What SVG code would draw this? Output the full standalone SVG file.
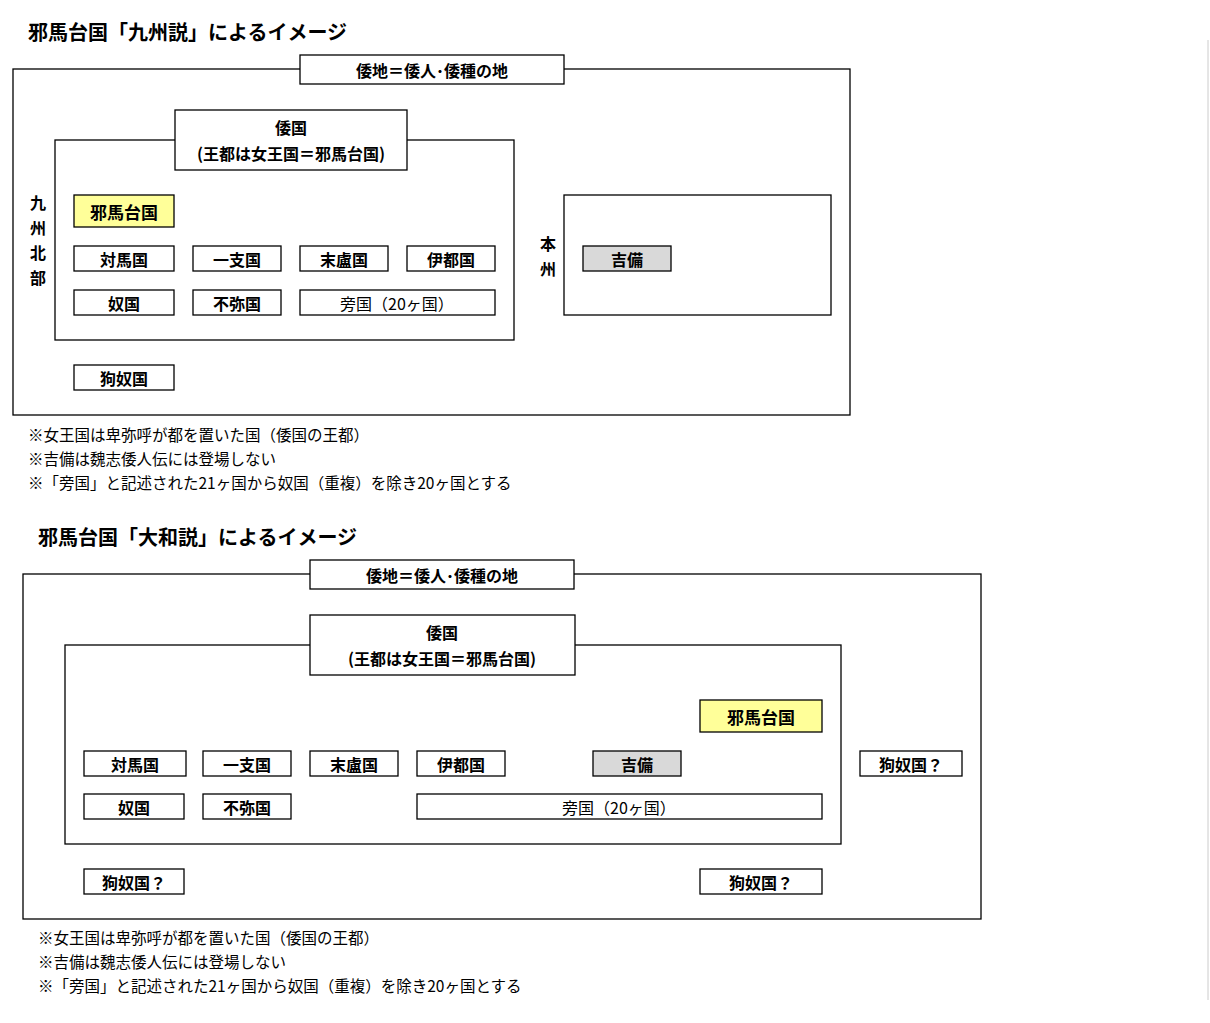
<svg xmlns="http://www.w3.org/2000/svg" width="1210" height="1023" viewBox="0 0 1210 1023">
<style>
text{font-family:"Noto Sans CJK JP","Liberation Sans",sans-serif;fill:#000}
.t{font-size:20px;font-weight:bold}
.b{font-size:16px;font-weight:bold;text-anchor:middle;dominant-baseline:central}
.n{font-size:16px;text-anchor:middle;dominant-baseline:central}
.note{font-size:15.5px}
.box{fill:#fff;stroke:#000;stroke-width:1.3}
.y{fill:#ffff99;stroke:#000;stroke-width:1.3}
.g{fill:#d9d9d9;stroke:#000;stroke-width:1.3}
</style>
<rect width="1210" height="1023" fill="#fff"/>
<line x1="1208" y1="40" x2="1208" y2="1000" stroke="#ccc"/>

<g id="kyushu">
<text class="t" x="28" y="40">邪馬台国「九州説」によるイメージ</text>
<rect class="box" x="13" y="69" width="837" height="346"/>
<g id="k-wachi"><rect class="box" x="300" y="55" width="264" height="29"/><text class="b" x="432" y="69.5">倭地＝倭人･倭種の地</text></g>
<rect class="box" x="55" y="140" width="459" height="200"/>
<g id="k-wakoku"><rect class="box" x="175" y="110" width="232" height="60"/><text class="b" x="291" y="127">倭国</text><text class="b" x="291" y="153">(王都は女王国＝邪馬台国)</text></g>
<g id="k-kyushu"><text class="b" x="38" y="202">九</text><text class="b" x="38" y="227">州</text><text class="b" x="38" y="252">北</text><text class="b" x="38" y="277">部</text></g>
<g id="k-yamatai"><rect class="y" x="74" y="195" width="100" height="32"/><text class="b" x="124" y="211" style="font-size:17px">邪馬台国</text></g>
<g id="k-tsushima"><rect class="box" x="74" y="246" width="100" height="25"/><text class="b" x="124" y="258.5">対馬国</text></g>
<g id="k-iki"><rect class="box" x="193" y="246" width="88" height="25"/><text class="b" x="237" y="258.5">一支国</text></g>
<g id="k-matsuro"><rect class="box" x="300" y="246" width="88" height="25"/><text class="b" x="344" y="258.5">末盧国</text></g>
<g id="k-ito"><rect class="box" x="407" y="246" width="88" height="25"/><text class="b" x="451" y="258.5">伊都国</text></g>
<g id="k-na"><rect class="box" x="74" y="290" width="100" height="25"/><text class="b" x="124" y="302.5">奴国</text></g>
<g id="k-fumi"><rect class="box" x="193" y="290" width="88" height="25"/><text class="b" x="237" y="302.5">不弥国</text></g>
<g id="k-boukoku"><rect class="box" x="300" y="290" width="195" height="25"/><text class="n" x="397" y="302.5">旁国（20ヶ国）</text></g>
<g id="k-kuna"><rect class="box" x="74" y="365" width="100" height="25"/><text class="b" x="124" y="377.5">狗奴国</text></g>
<g id="k-honshu"><rect class="box" x="564" y="195" width="267" height="120"/><text class="b" x="548" y="243">本</text><text class="b" x="548" y="268">州</text></g>
<g id="k-kibi"><rect class="g" x="583" y="246" width="88" height="25"/><text class="b" x="627" y="258.5">吉備</text></g>
<text class="note" x="28" y="441">※女王国は卑弥呼が都を置いた国（倭国の王都）</text>
<text class="note" x="28" y="465">※吉備は魏志倭人伝には登場しない</text>
<text class="note" x="28" y="489">※「旁国」と記述された21ヶ国から奴国（重複）を除き20ヶ国とする</text>
</g>

<g id="yamato">
<text class="t" x="38" y="545">邪馬台国「大和説」によるイメージ</text>
<rect class="box" x="23" y="574" width="958" height="345"/>
<g id="y-wachi"><rect class="box" x="310" y="560" width="264" height="29"/><text class="b" x="442" y="574.5">倭地＝倭人･倭種の地</text></g>
<rect class="box" x="65" y="645" width="776" height="199"/>
<g id="y-wakoku"><rect class="box" x="310" y="615" width="265" height="60"/><text class="b" x="442" y="632">倭国</text><text class="b" x="442" y="658">(王都は女王国＝邪馬台国)</text></g>
<g id="y-yamatai"><rect class="y" x="700" y="700" width="122" height="32"/><text class="b" x="761" y="716" style="font-size:17px">邪馬台国</text></g>
<g id="y-tsushima"><rect class="box" x="84" y="751" width="102" height="25"/><text class="b" x="135" y="763.5">対馬国</text></g>
<g id="y-iki"><rect class="box" x="203" y="751" width="88" height="25"/><text class="b" x="247" y="763.5">一支国</text></g>
<g id="y-matsuro"><rect class="box" x="310" y="751" width="88" height="25"/><text class="b" x="354" y="763.5">末盧国</text></g>
<g id="y-ito"><rect class="box" x="417" y="751" width="88" height="25"/><text class="b" x="461" y="763.5">伊都国</text></g>
<g id="y-kibi"><rect class="g" x="593" y="751" width="88" height="25"/><text class="b" x="637" y="763.5">吉備</text></g>
<g id="y-kuna1"><rect class="box" x="860" y="751" width="102" height="25"/><text class="b" x="911" y="763.5">狗奴国？</text></g>
<g id="y-na"><rect class="box" x="84" y="794" width="100" height="25"/><text class="b" x="134" y="806.5">奴国</text></g>
<g id="y-fumi"><rect class="box" x="203" y="794" width="88" height="25"/><text class="b" x="247" y="806.5">不弥国</text></g>
<g id="y-boukoku"><rect class="box" x="417" y="794" width="405" height="25"/><text class="n" x="619" y="806.5">旁国（20ヶ国）</text></g>
<g id="y-kuna2"><rect class="box" x="84" y="869" width="100" height="25"/><text class="b" x="134" y="881.5">狗奴国？</text></g>
<g id="y-kuna3"><rect class="box" x="700" y="869" width="122" height="25"/><text class="b" x="761" y="881.5">狗奴国？</text></g>
<text class="note" x="38" y="944">※女王国は卑弥呼が都を置いた国（倭国の王都）</text>
<text class="note" x="38" y="968">※吉備は魏志倭人伝には登場しない</text>
<text class="note" x="38" y="992">※「旁国」と記述された21ヶ国から奴国（重複）を除き20ヶ国とする</text>
</g>
<g id="connectors"></g>
</svg>
